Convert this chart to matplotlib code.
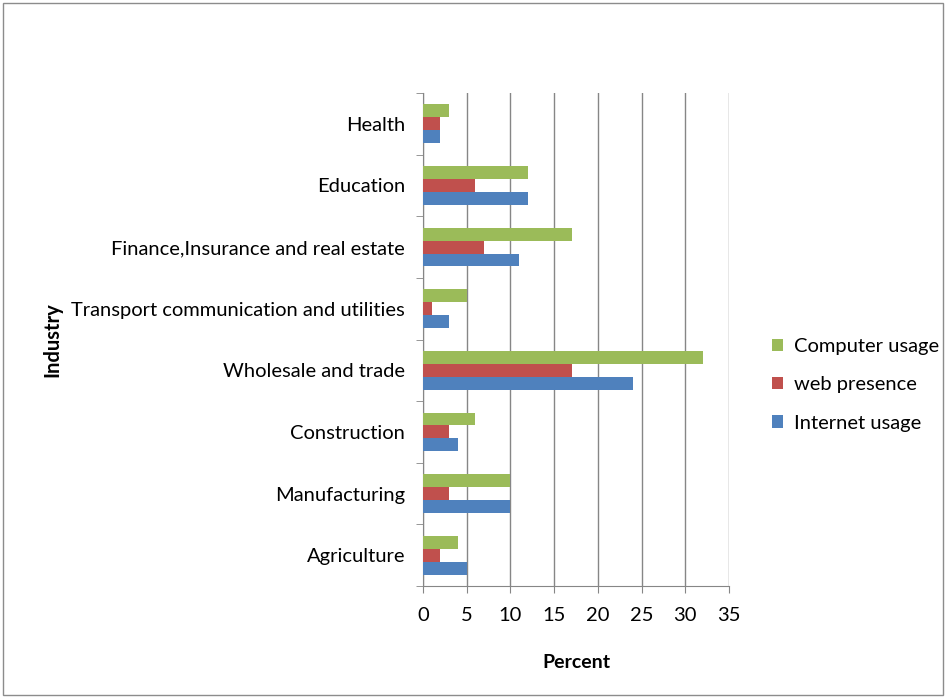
import matplotlib.pyplot as plt
import numpy as np
from matplotlib.patches import Rectangle

industries = ['Agriculture', 'Manufacturing', 'Construction', 'Wholesale and trade',
              'Transport communication and utilities', 'Finance,Insurance and real estate',
              'Education', 'Health']
internet_usage = [5, 10, 4, 24, 3, 11, 12, 2]
web_presence = [2, 3, 3, 17, 1, 7, 6, 2]
computer_usage = [4, 10, 6, 32, 5, 17, 12, 3]

plt.rcParams['font.family'] = ['Lato', 'DejaVu Sans']

fig = plt.figure(figsize=(9.46, 6.98), dpi=100)
ax = fig.add_axes([423 / 946, 1 - 586 / 698, 306 / 946, 493 / 698])

y = np.arange(len(industries))
h = 0.21
ax.barh(y - h, internet_usage, h, color='#4F81BD', label='Internet usage', zorder=3)
ax.barh(y, web_presence, h, color='#C0504D', label='web presence', zorder=3)
ax.barh(y + h, computer_usage, h, color='#9BBB59', label='Computer usage', zorder=3)

ax.set_xlim(0, 35)
ax.set_ylim(-0.5, len(industries) - 0.5)
ax.set_xticks(range(0, 36, 5))
ax.set_yticks(y)
ax.set_yticklabels(industries, fontsize=14.5)
ax.set_yticks(np.arange(-0.5, len(industries)), minor=True)
ax.tick_params(axis='y', which='major', length=0, pad=13)
ax.tick_params(axis='y', which='minor', length=5, color='#868686')
ax.tick_params(axis='x', length=5, color='#868686', labelsize=14.5, pad=10)
ax.grid(axis='x', color='#868686', linewidth=1, zorder=0)
for s in ['top', 'right']:
    ax.spines[s].set_visible(False)
for s in ['left', 'bottom']:
    ax.spines[s].set_color('#868686')

ax.set_xlabel('Percent', fontsize=14, fontweight='bold', labelpad=22)
ax.set_ylabel('Industry', fontsize=14.5, fontweight='bold')
ax.yaxis.set_label_coords(-1.18, 0.5)

handles, labels = ax.get_legend_handles_labels()
fig.legend(handles[::-1], labels[::-1], loc='center left', bbox_to_anchor=(772 / 946, 1 - 385 / 698),
           frameon=False, fontsize=14.5, handlelength=0.55, handleheight=0.55,
           handletextpad=0.55, labelspacing=1.05, borderpad=0, borderaxespad=0)

fig.patches.append(Rectangle((3 / 946, 3 / 698), 940 / 946, 692 / 698, transform=fig.transFigure,
                             fill=False, edgecolor='#8c8c8c', linewidth=1))

fig.savefig('out.png', dpi=100)
